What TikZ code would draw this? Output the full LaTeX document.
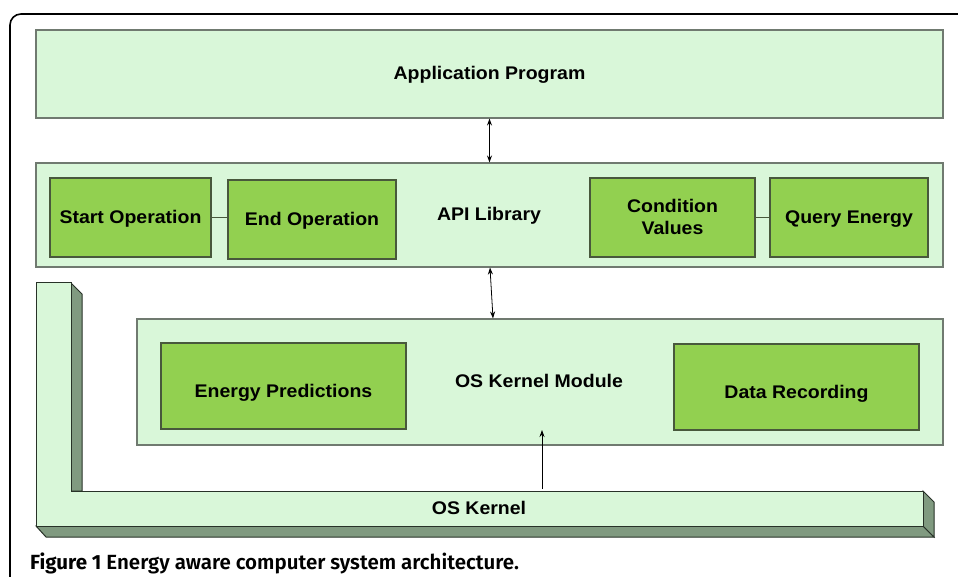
\documentclass[tikz,border=0pt]{standalone}
\usepackage{fontspec}
\setmainfont{Liberation Sans}[FakeStretch=1.065]
\newfontfamily\capfont{Fira Sans}[UprightFont={* SemiBold},BoldFont={* Bold}]
\usetikzlibrary{arrows.meta}
\definecolor{lightfill}{RGB}{217,247,217}
\definecolor{darkfill}{RGB}{146,208,80}
\definecolor{lightedge}{RGB}{112,122,112}
\definecolor{darkedge}{RGB}{72,88,60}
\definecolor{shade}{RGB}{128,154,128}
\definecolor{shadeedge}{RGB}{40,50,40}
\begin{document}
\begin{tikzpicture}[x=1pt,y=-1pt,
  outerbox/.style={draw=lightedge,fill=lightfill,line width=1.1pt,inner sep=0pt},
  innerbox/.style={draw=darkedge,fill=darkfill,line width=1.1pt,inner sep=0pt,align=center,text depth=0pt},
  lbl/.style={font=\fontsize{18.3}{23}\selectfont\bfseries,align=center},
  blbl/.style={lbl,anchor=base,inner sep=0pt},
  arr/.style={-{Stealth[length=7pt,width=5pt]},line width=0.8pt},
  darr/.style={{Stealth[length=7pt,width=5pt]}-{Stealth[length=7pt,width=5pt]},line width=0.8pt},
  link/.style={draw=darkedge,line width=1pt},
  face/.style={draw=shadeedge,fill=lightfill,line width=1pt,line join=miter},
  side/.style={draw=shadeedge,fill=shade,line width=1pt,line join=miter}]
\useasboundingbox (0,0) rectangle (958,577);
% frame
\draw[line width=1.6pt,rounded corners=11pt] (10,580) -- (10,14) -- (962,14);
% top boxes
\node[outerbox,minimum width=907pt,minimum height=88pt] (app) at (489.5,74) {};
\node[blbl] (applbl) at (489.5,80) {Application Program};
\node[outerbox,minimum width=907pt,minimum height=104pt] (api) at (489.5,215) {};
\node[blbl] (apilbl) at (489,221) {API Library};
\node[innerbox,minimum width=161pt,minimum height=79pt,lbl,text height=11.6pt] (start) at (130.5,217.5) {Start Operation};
\node[innerbox,minimum width=168pt,minimum height=79pt,lbl,text height=11.6pt] (end) at (312,219.5) {End Operation};
\node[innerbox,minimum width=165pt,minimum height=79pt] (cond) at (672.5,217.5) {};
\node[blbl] (condlbl) at (672.5,212.3) {Condition};
\node[blbl] (condlbl2) at (672.5,235) {Values};
\node[innerbox,minimum width=158pt,minimum height=79pt,lbl,text height=13pt] (query) at (849,217.5) {Query Energy};
\draw[link] (start.east) -- (start.east -| end.west);
\draw[link] (cond.east) -- (cond.east -| query.west);
% kernel module
\node[outerbox,minimum width=806pt,minimum height=126pt] (kmod) at (540,382) {};
\node[blbl] (kmodlbl) at (539,387.3) {OS Kernel Module};
\node[innerbox,minimum width=245pt,minimum height=86pt,lbl,text height=22.6pt] (ep) at (283.5,386) {Energy Predictions};
\node[innerbox,minimum width=245pt,minimum height=86pt,lbl,text height=23.5pt] (dr) at (796.5,387) {Data Recording};
% L-shaped OS kernel
\draw[side] (71,283) -- (82,294) -- (82,491) -- (71,491) -- cycle;
\draw[side] (36,526) -- (46,537) -- (934,537) -- (923,526) -- cycle;
\draw[side] (923,491) -- (934,502) -- (934,537) -- (923,526) -- cycle;
\draw[face] (36,283) -- (71,283) -- (71,491) -- (923,491) -- (923,526) -- (36,526) -- cycle;
\node[blbl] (kern) at (479,514) {OS Kernel};
\coordinate (kerntop) at (542,489);
\coordinate (kmodin) at (542,430);
% arrows
\draw[darr] (app.south) -- (api.north);
\draw[darr] ([xshift=0.5pt]api.south) -- ([xshift=3.5pt]api.south |- kmod.north);
\draw[arr] (kerntop) -- (kmodin);
% caption
\node[anchor=base west,inner sep=0pt,font=\capfont\fontsize{20.5}{24}\selectfont] (cap) at (30,569) {\textbf{Figure 1} Energy aware computer system architecture.};
\end{tikzpicture}
\end{document}
